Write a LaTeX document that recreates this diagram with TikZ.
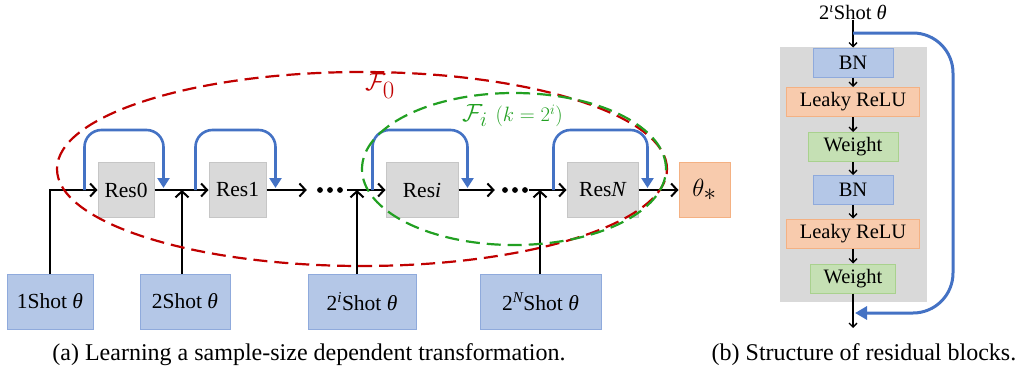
\documentclass[tikz,border=0pt]{standalone}
\usepackage{fontspec}
\setmainfont{Liberation Serif}
\usetikzlibrary{arrows.meta}
\definecolor{resgray}{HTML}{D9D9D9}
\definecolor{resedge}{HTML}{C6C6C6}
\definecolor{shotfill}{HTML}{B4C7E7}
\definecolor{shotedge}{HTML}{8FAADC}
\definecolor{orfill}{HTML}{F8CBAD}
\definecolor{oredge}{HTML}{F4B183}
\definecolor{grfill}{HTML}{C5E0B4}
\definecolor{gredge}{HTML}{A9D18E}
\definecolor{loopblue}{HTML}{4472C4}
\definecolor{dred}{HTML}{C00000}
\definecolor{dgreen}{HTML}{22A022}
\begin{document}
\begin{tikzpicture}[x=1pt,y=-1pt,
  txt/.style={font=\fontsize{21.5}{24}\selectfont},
  resbox/.style={draw=resedge,line width=1pt,fill=resgray,minimum height=55pt,inner sep=0pt,txt},
  shotbox/.style={draw=shotedge,line width=1pt,fill=shotfill,minimum height=55pt,inner sep=0pt,txt},
  outbox/.style={draw=oredge,line width=1pt,fill=orfill,minimum height=55pt,minimum width=51pt,inner sep=0pt},
  flow/.style={line width=2pt,-{Straight Barb[length=6pt,width=13pt]}},
  loopline/.style={draw=loopblue,line width=2.6pt,rounded corners=17pt,-{Triangle[length=10pt,width=12pt]}},
  dotsnode/.style={minimum height=10pt,inner sep=0pt},
  small/.style={font=\fontsize{20.5}{23}\selectfont},
  layer/.style={line width=1pt,minimum height=29pt,inner sep=0pt,small},
  bnbox/.style={layer,draw=shotedge,fill=shotfill,minimum width=80pt},
  relubox/.style={layer,draw=oredge,fill=orfill,minimum width=133pt},
  wbox/.style={layer,draw=gredge,fill=grfill,minimum width=90pt},
  thin/.style={line width=1.3pt,-{Straight Barb[length=4pt,width=8pt]}},
  caption/.style={font=\fontsize{24}{26}\selectfont}
]
\useasboundingbox (0,0) rectangle (1023,375);

% ---------- panel (a) ----------
\node[resbox,minimum width=56pt] (r0) at (126,190) {Res0};
\node[resbox,minimum width=57pt] (r1) at (237.5,190) {Res1};
\node[resbox,minimum width=72pt] (ri) at (422,190) {Res{\itshape i}};
\node[resbox,minimum width=71pt] (rN) at (602.5,190) {Res{\itshape N}};
\node[outbox] (th) at (704.5,190) {\fontsize{34}{36}\selectfont$\theta_{*}$};

\node[shotbox,minimum width=86pt] (s1) at (50,301.5) {1Shot {\itshape θ}};
\node[shotbox,minimum width=90pt] (s2) at (185,301.5) {2Shot {\itshape θ}};
\node[shotbox,minimum width=108pt] (si) at (362,301.5) {2\textsuperscript{\itshape i}Shot {\itshape θ}};
\node[shotbox,minimum width=121pt] (sN) at (540.5,301.5) {2\textsuperscript{\itshape N}Shot {\itshape θ}};

\node[dotsnode,minimum width=40pt] (d1) at (327,190) {};
\node[dotsnode,minimum width=34pt] (d2) at (512,190) {};
\foreach \cx in {320,330,340} \fill (\cx,190) circle[radius=2.9pt];
\foreach \cx in {505,515,525} \fill (\cx,190) circle[radius=2.9pt];

\coordinate (j1) at (182,190);
\coordinate (j2) at (357,190);
\coordinate (j3) at (540,190);

\draw[flow] (s1.north) |- (r0.west);
\draw[flow] (r0.east) -- (r1.west);
\draw[flow] (r1.east) -- (d1.west);
\draw[flow] (d1.east) -- (ri.west);
\draw[flow] (ri.east) -- (d2.west);
\draw[flow] (d2.east) -- (rN.west);
\draw[flow] (rN.east) -- (th.west);
\draw[flow] (s2.north -| j1) -- (j1);
\draw[flow] (si.north -| j2) -- (j2);
\draw[flow] (sN.north -| j3) -- (j3);

\foreach \n in {r0,r1,ri,rN}
  \draw[loopline] ([xshift=-13pt]\n.west) -- ++(0,-60) -| ([xshift=9pt,yshift=2pt]\n.east);

\draw[dred,line width=2.2pt,dash pattern=on 14pt off 7pt] (362,169) ellipse [x radius=305pt, y radius=97pt];
\draw[dgreen,line width=2.2pt,dash pattern=on 14pt off 7pt] (514,169) ellipse [x radius=152pt, y radius=76pt];

\node[text=dred,inner sep=0pt] (f0) at (380,86) {\fontsize{33}{36}\selectfont$\mathcal{F}_0$};
\node[text=dgreen,inner sep=0pt,anchor=west] (fi) at (462,116) {\fontsize{32}{36}\selectfont$\mathcal{F}_i$ \fontsize{20}{22}\selectfont$(k=2^i)$};

\node[caption] (capa) at (309,355) {(a) Learning a sample-size dependent transformation.};

% ---------- panel (b) ----------
\fill[resgray] (780,47) rectangle (927,302);
\node[small,inner sep=0pt] (tt) at (853,12.5) {2\textsuperscript{\itshape ι}Shot {\itshape θ}};
\node[bnbox] (b1) at (853,62.5) {BN};
\node[relubox] (l1) at (853,102) {Leaky ReLU};
\node[wbox] (w1) at (853,147) {Weight};
\node[bnbox] (b2) at (853,190) {BN};
\node[relubox] (l2) at (853,233.5) {Leaky ReLU};
\node[wbox,minimum width=85pt] (w2) at (853,278.5) {Weight};
\coordinate (tap) at (853,33);
\coordinate (merge) at (855,313);
\coordinate (outb) at (853,328);

\draw[thin] (tt.south) -- (b1.north);
\draw[thin] (b1.south) -- (l1.north);
\draw[thin] (l1.south) -- (w1.north);
\draw[thin] (w1.south) -- (b2.north);
\draw[thin] (b2.south) -- (l2.north);
\draw[thin] (l2.south) -- (w2.north);
\draw[thin] (w2.south) -- (outb);
\draw[draw=loopblue,line width=3pt,rounded corners=40pt,-{Triangle[length=12pt,width=13pt]}]
  (tap) -- (953,33) -- (953,313) -- (merge);

\node[caption] (capb) at (864,355) {(b) Structure of residual blocks.};
\end{tikzpicture}
\end{document}
